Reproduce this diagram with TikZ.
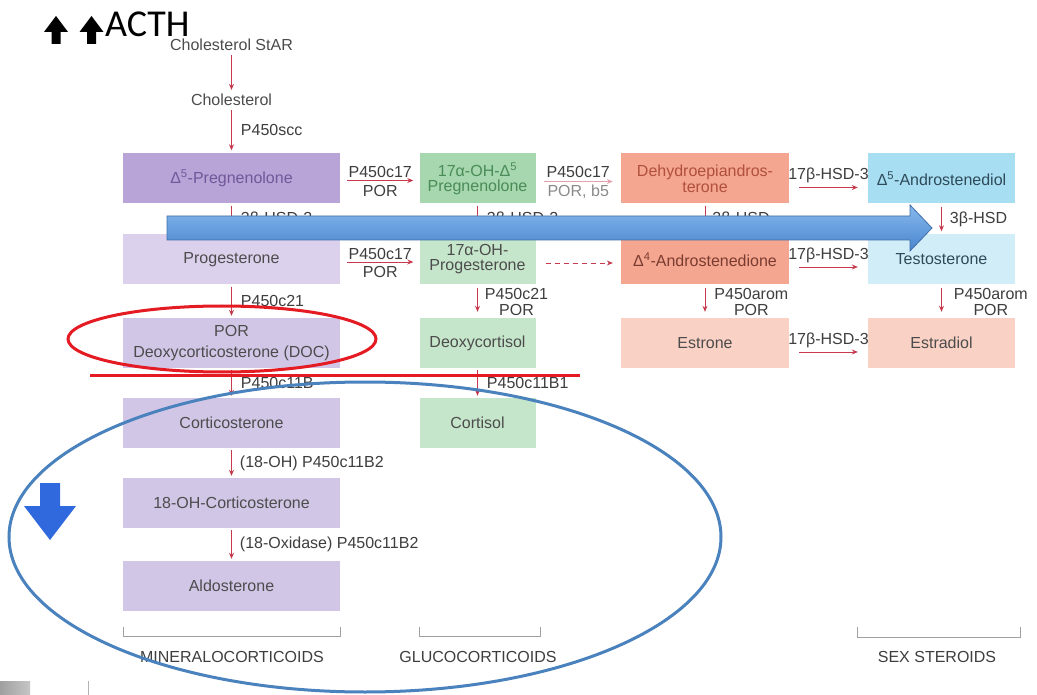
\documentclass[tikz,border=0pt]{standalone}
\usepackage{fontspec}
\setmainfont{Liberation Sans}
\newfontfamily\slidefont{Carlito}
\usetikzlibrary{arrows.meta}

% box fills
\definecolor{purA}{HTML}{B9A4D7}
\definecolor{purB}{HTML}{DCD1EC}
\definecolor{purC}{HTML}{D2C6E7}
\definecolor{grnA}{HTML}{A6D7AF}
\definecolor{grnB}{HTML}{C6E6CB}
\definecolor{salA}{HTML}{F5A690}
\definecolor{salB}{HTML}{FAD1C5}
\definecolor{cyaA}{HTML}{A7DEF2}
\definecolor{cyaB}{HTML}{D0EDF8}
% text and strokes
\definecolor{boxtxt}{HTML}{4C4C4C}
\definecolor{lbltxt}{HTML}{3E3E3E}
\definecolor{paletxt}{HTML}{8A8A8A}
\definecolor{purtxt}{HTML}{70589A}
\definecolor{grntxt}{HTML}{4A8B56}
\definecolor{saltxt}{HTML}{B0503E}
\definecolor{browntxt}{HTML}{7A3C30}
\definecolor{tealtxt}{HTML}{2F4B5A}
\definecolor{rxn}{HTML}{C73A4E}
\definecolor{rxnpale}{HTML}{E3A2AE}
\definecolor{bracket}{HTML}{A0A0A0}
\definecolor{bandtop}{HTML}{86B8EC}
\definecolor{bandbot}{HTML}{4A86CF}
\definecolor{bandedge}{HTML}{3F6EA8}
\definecolor{ringred}{HTML}{E41B22}
\definecolor{ringblue}{HTML}{4A82BE}
\definecolor{downblue}{HTML}{3068DD}

\newcommand\bfs{\fontsize{16}{16}\selectfont}
\newcommand\lfs{\fontsize{16}{16}\selectfont}

\tikzset{
  box/.style={inner sep=0pt, minimum height=50pt, align=center, text=boxtxt, font=\bfs},
  colA/.style={box, minimum width=217pt},
  colB/.style={box, minimum width=116pt},
  colC/.style={box, minimum width=168pt},
  colD/.style={box, minimum width=147pt},
  lbl/.style={font=\lfs, text=lbltxt, inner sep=1pt, align=center},
  rarr/.style={draw=rxn, line width=0.9pt, -{Stealth[length=6pt,width=5pt]}},
  palearr/.style={draw=rxnpale, line width=0.9pt, -{Stealth[length=6pt,width=5pt]}},
  bracketline/.style={draw=bracket, line width=0.9pt},
  grouplbl/.style={font=\lfs, text=lbltxt, inner sep=0pt}
}

\begin{document}
\begin{tikzpicture}[x=1pt,y=-1pt]
\useasboundingbox (0,0) rectangle (1037,695);
\fill[white] (0,0) rectangle (1037,695);

% ---- title ----
\fill[black] (56,16) -- (68,32) -- (60.5,32) -- (60.5,44) -- (51.5,44) -- (51.5,32) -- (44,32) -- cycle;
\fill[black] (91.5,16) -- (103.5,32) -- (96,32) -- (96,44) -- (87,44) -- (87,32) -- (79.5,32) -- cycle;
\node[anchor=base west, inner sep=0pt, font=\slidefont\fontsize{38}{38}\selectfont] (acth) at (105,37) {ACTH};

% ---- precursors ----
\node[lbl, text=boxtxt] (chstar) at (231.5,45) {Cholesterol StAR};
\node[lbl, text=boxtxt] (chol) at (231.5,100) {Cholesterol};

% ---- steroid boxes ----
\node[colA, fill=purA, text=purtxt] (preg) at (231.5,178.5) {Δ\textsuperscript{5}-Pregnenolone};
\node[colB, fill=grnA, text=grntxt, font=\fontsize{16}{15}\selectfont] (ohpreg) at (477.5,178.5) {17α-OH-Δ\textsuperscript{5}\\Pregnenolone};
\node[colC, fill=salA, text=saltxt, font=\fontsize{16}{16}\selectfont] (dhea) at (705,178.5) {Dehydroepiandros-\\terone};
\node[colD, fill=cyaA, text=tealtxt] (adiol) at (941.5,178.5) {Δ\textsuperscript{5}-Androstenediol};

\node[colA, fill=purB] (prog) at (231.5,259.5) {Progesterone};
\node[colB, fill=grnB, font=\fontsize{16}{15}\selectfont] (ohprog) at (477.5,259.5) {17α-OH-\\Progesterone};
\node[colC, fill=salA, text=browntxt] (adione) at (705,259.5) {Δ\textsuperscript{4}-Androstenedione};
\node[colD, fill=cyaB, text=tealtxt] (testo) at (941.5,259.5) {Testosterone};

\node[colA, fill=purC, font=\fontsize{16}{21}\selectfont] (doc) at (231.5,343) {POR\\Deoxycorticosterone (DOC)};
\node[colB, fill=grnB] (dcort) at (477.5,343) {Deoxycortisol};
\node[colC, fill=salB] (estrone) at (705,343) {Estrone};
\node[colD, fill=salB] (estradiol) at (941.5,343) {Estradiol};

\node[colA, fill=purC] (cortico) at (231.5,423) {Corticosterone};
\node[colB, fill=grnB] (cortisol) at (477.5,423) {Cortisol};
\node[colA, fill=purC] (ohcort) at (231.5,503) {18-OH-Corticosterone};
\node[colA, fill=purC] (aldo) at (231.5,586) {Aldosterone};

% ---- vertical steps ----
\draw[rarr, shorten <=3pt, shorten >=3pt] (chstar) -- (chol);
\draw[rarr, shorten <=3pt, shorten >=3pt] (chol) -- (preg) node[lbl, midway, right=8pt] {P450scc};
\draw[rarr, shorten <=2pt, shorten >=2pt] (preg) -- (prog) node[lbl, midway, right=8pt] {3β-HSD-2};
\draw[rarr, shorten <=2pt, shorten >=2pt] (ohpreg) -- (ohprog) node[lbl, midway, right=8pt] {3β-HSD-2};
\draw[rarr, shorten <=2pt, shorten >=2pt] (dhea) -- (adione) node[lbl, midway, right=6pt] {3β-HSD};
\draw[rarr, shorten <=3pt, shorten >=3pt] (adiol) -- (testo) node[lbl, midway, right=7pt] {3β-HSD};

\draw[rarr, shorten <=2pt, shorten >=2pt] (prog) -- (doc) node[lbl, midway, right=8pt] {P450c21};
\draw[rarr, shorten <=3pt, shorten >=6pt] (ohprog) -- (dcort) node[lbl, midway, right=6pt, yshift=-1pt] {P450c21\\POR};
\draw[rarr, shorten <=3pt, shorten >=6pt] (adione) -- (estrone) node[lbl, midway, right=8pt, yshift=-1pt] {P450arom\\POR};
\draw[rarr, shorten <=3pt, shorten >=6pt] (testo) -- (estradiol) node[lbl, midway, right=11pt, yshift=-1pt] {P450arom\\POR};

\draw[rarr, shorten <=2pt, shorten >=2pt] (doc) -- (cortico) node[lbl, midway, right=8pt] {P450c11B};
\draw[rarr, shorten <=2pt, shorten >=2pt] (dcort) -- (cortisol) node[lbl, midway, right=8pt] {P450c11B1};
\draw[rarr, shorten <=2pt, shorten >=2pt] (cortico) -- (ohcort) node[lbl, midway, right=7pt] {(18-OH) P450c11B2};
\draw[rarr, shorten <=2pt, shorten >=2pt] (ohcort) -- (aldo) node[lbl, midway, right=7pt] {(18-Oxidase) P450c11B2};

% ---- horizontal steps ----
\draw[rarr] ([xshift=7pt,yshift=-2pt]preg.east) -- ([xshift=-6pt,yshift=-2pt]ohpreg.west)
  node[lbl, midway, above=1pt] {P450c17} node[lbl, midway, below=3pt] {POR};
\draw[palearr] ([xshift=8pt,yshift=-3pt]ohpreg.east) -- ([xshift=-8pt,yshift=-3pt]dhea.west)
  node[lbl, midway, above=2pt] {P450c17} node[lbl, midway, below=2pt, text=paletxt] {POR, b5};
\draw[rarr] ([xshift=10pt,yshift=-9pt]dhea.east) -- ([xshift=-10pt,yshift=-9pt]adiol.west)
  node[lbl, midway, above=3pt] {17β-HSD-3};

\draw[rarr] ([xshift=7pt,yshift=-2.5pt]prog.east) -- ([xshift=-6pt,yshift=-2.5pt]ohprog.west)
  node[lbl, midway, above=1pt] {P450c17} node[lbl, midway, below=3pt] {POR};
\draw[rarr, dashed, dash pattern=on 5pt off 4pt] ([xshift=10pt,yshift=-3.5pt]ohprog.east) -- ([xshift=-8pt,yshift=-3.5pt]adione.west);
\draw[rarr] ([xshift=10pt,yshift=-7.5pt]adione.east) -- ([xshift=-10pt,yshift=-7.5pt]testo.west)
  node[lbl, midway, above=3pt] {17β-HSD-3};

\draw[rarr] ([xshift=10pt,yshift=-9pt]estrone.east) -- ([xshift=-10pt,yshift=-9pt]estradiol.west)
  node[lbl, midway, above=3pt] {17β-HSD-3};

% ---- group brackets ----
\draw[bracketline] (123,627) -- (123,636) -- (340,636) -- (340,627);
\draw[bracketline] (419,627) -- (419,636) -- (540,636) -- (540,627);
\draw[bracketline] (857,627) -- (857,637) -- (1020,637) -- (1020,627);
\node[grouplbl] (mineral) at (232,657) {MINERALOCORTICOIDS};
\node[grouplbl] (gluco) at (478,657) {GLUCOCORTICOIDS};
\node[grouplbl] (sex) at (937,657) {SEX STEROIDS};

% ---- slide overlays ----
\shade[top color=bandtop, bottom color=bandbot, draw=bandedge, line width=0.8pt]
  (167,216) -- (910,216) -- (910,205) -- (932,228) -- (910,251) -- (910,240) -- (167,240) -- cycle;
\draw[ringred, line width=3pt] (222,339) ellipse [x radius=154, y radius=33];
\draw[ringred, line width=3pt] (90,375) -- (580,375);
\draw[ringblue, line width=3pt] (365,537) ellipse [x radius=356, y radius=155];
\fill[downblue] (40,483) -- (60,483) -- (60,506) -- (76,506) -- (50,540) -- (24,506) -- (40,506) -- cycle;

% ---- slide frame remnants ----
\shade[left color=gray!75, right color=gray!45] (0,681) rectangle (30,695);
\draw[gray!60, line width=0.8pt] (88,681) -- (88,695);
\end{tikzpicture}
\end{document}
